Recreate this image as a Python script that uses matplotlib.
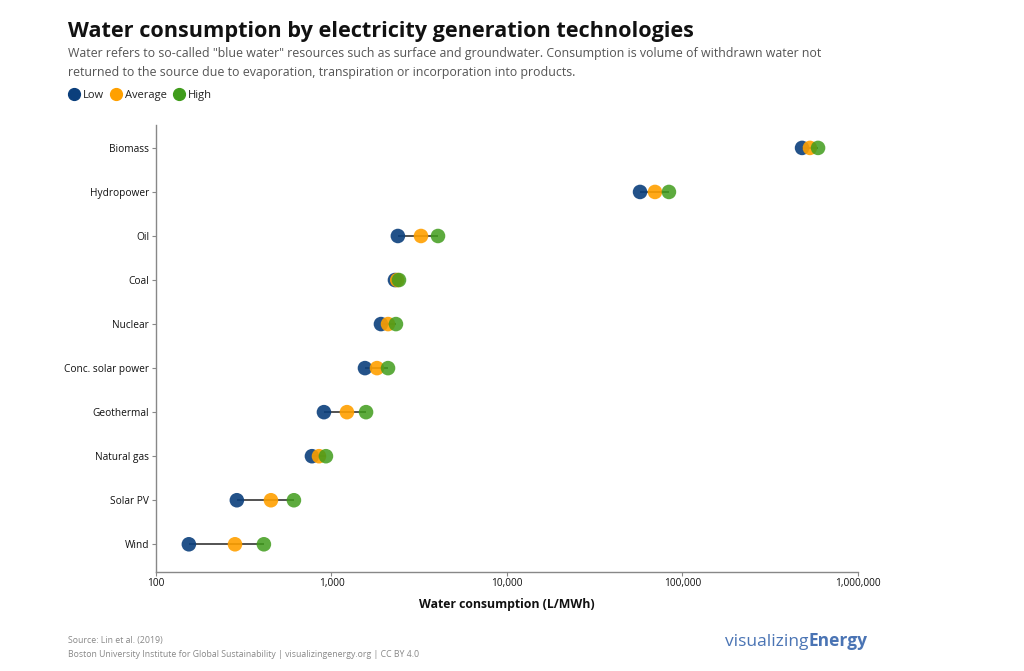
import matplotlib.pyplot as plt
from matplotlib.lines import Line2D
from matplotlib.ticker import FixedLocator, NullLocator

plt.rcParams['font.family'] = ['Open Sans', 'DejaVu Sans']

# Data (L/MWh)
technologies = ['Wind', 'Solar PV', 'Natural gas', 'Geothermal', 'Conc. solar power',
                'Nuclear', 'Coal', 'Oil', 'Hydropower', 'Biomass']
low = [154, 289, 774, 906, 1552, 1914, 2300, 2390, 57300, 480000]
average = [282, 452, 849, 1225, 1817, 2100, 2370, 3236, 69700, 532000]
high = [412, 611, 930, 1574, 2100, 2330, 2425, 4045, 83700, 592000]

x_ticks = [100, 1000, 10000, 100000, 1000000]
x_ticklabels = ['100', '1,000', '10,000', '100,000', '1,000,000']

c_low = '#0b3f7c'
c_avg = '#ffa000'
c_high = '#409c1c'

fig = plt.figure(figsize=(10.24, 6.71), dpi=100)
ax = fig.add_axes([0.1523, 0.1475, 0.6856, 0.6662])

y = list(range(len(technologies)))

# connecting lines
ax.hlines(y, low, high, color='#444444', linewidth=1.3, zorder=2)

ax.scatter(low, y, s=110, color=c_low, alpha=0.9, edgecolors='none', zorder=3)
ax.scatter(average, y, s=110, color=c_avg, alpha=0.9, edgecolors='none', zorder=3)
ax.scatter(high, y, s=110, color=c_high, alpha=0.85, edgecolors='none', zorder=3)

ax.set_xscale('log')
ax.set_xlim(100, 1000000)
ax.set_ylim(-0.63, 9.52)
ax.xaxis.set_major_locator(FixedLocator(x_ticks))
ax.xaxis.set_minor_locator(NullLocator())
ax.set_xticklabels(x_ticklabels)
ax.set_yticks(y)
ax.set_yticklabels(technologies)

ax.tick_params(axis='both', labelsize=7.3, color='#888888', length=3, width=0.8,
               labelcolor='#111111')
ax.tick_params(axis='x', pad=1)
ax.tick_params(axis='y', pad=2)
for side in ['top', 'right']:
    ax.spines[side].set_visible(False)
for side in ['left', 'bottom']:
    ax.spines[side].set_color('#888888')
    ax.spines[side].set_linewidth(1.0)

ax.set_xlabel('Water consumption (L/MWh)', fontsize=8.8, fontweight='bold',
              color='#111111', labelpad=7)

# title and subtitle
fig.text(0.066, 0.953, 'Water consumption by electricity generation technologies',
         fontsize=15.6, fontweight='bold', color='#111111', va='center')
fig.text(0.066, 0.920, 'Water refers to so-called "blue water" resources such as surface and groundwater. '
         'Consumption is volume of withdrawn water not', fontsize=8.9, color='#555555', va='center')
fig.text(0.066, 0.892, 'returned to the source due to evaporation, transpiration or incorporation into products.',
         fontsize=8.9, color='#555555', va='center')

# legend
legend_items = [('Low', c_low, 74), ('Average', c_avg, 116), ('High', c_high, 179)]
ly = 1 - 94 / 671
for lab, col, px in legend_items:
    fig.add_artist(Line2D([px / 1024], [ly], transform=fig.transFigure, marker='o',
                          markersize=8.5, color=col, linestyle='none'))
    fig.text((px + 9) / 1024, ly, lab, fontsize=8, color='#222222', va='center_baseline')

# footer
fig.text(0.066, 0.046, 'Source: Lin et al. (2019)', fontsize=6.3, color='#888888', va='center')
fig.text(0.066, 0.024, 'Boston University Institute for Global Sustainability | visualizingenergy.org | CC BY 4.0',
         fontsize=6.3, color='#888888', va='center')
t1 = fig.text(0.708, 0.038, 'visualizing', fontsize=12.5, color='#4a74b4', va='baseline')
ax.annotate('Energy', xy=(1, 0), xycoords=t1, xytext=(0, 0), textcoords='offset points',
            fontsize=12.5, color='#4a74b4', fontweight='bold', va='bottom', ha='left',
            annotation_clip=False)

fig.savefig('out.png', dpi=100)
